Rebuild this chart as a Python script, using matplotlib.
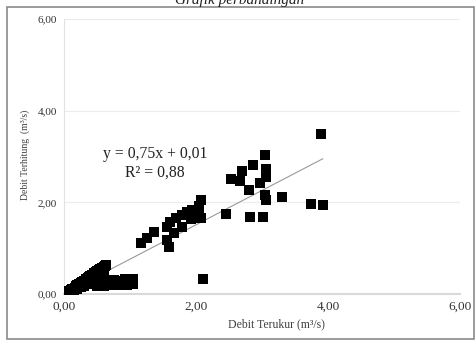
import matplotlib.pyplot as plt
from matplotlib.patches import Rectangle

# measured vs computed discharge (m3/s)
x_low_diag = [0.00, 0.02, 0.04, 0.06, 0.08, 0.10, 0.12, 0.14, 0.16, 0.18, 0.20, 0.22,
              0.25, 0.28, 0.30, 0.33, 0.36, 0.38, 0.40, 0.43, 0.46, 0.48, 0.50, 0.53,
              0.55, 0.58, 0.60, 0.62, 0.64, 0.05, 0.10, 0.15, 0.20, 0.25, 0.30, 0.35,
              0.40, 0.45, 0.50, 0.55, 0.60, 0.35, 0.45, 0.55]
y_low_diag = [0.00, 0.01, 0.03, 0.05, 0.06, 0.08, 0.10, 0.12, 0.14, 0.17, 0.19, 0.21,
              0.24, 0.27, 0.29, 0.32, 0.35, 0.37, 0.40, 0.42, 0.45, 0.47, 0.50, 0.52,
              0.54, 0.57, 0.59, 0.61, 0.63, 0.00, 0.03, 0.06, 0.10, 0.15, 0.18, 0.22,
              0.28, 0.33, 0.38, 0.45, 0.50, 0.28, 0.38, 0.48]

x_low_flat = [0.20, 0.25, 0.30, 0.35, 0.40, 0.45, 0.50, 0.55, 0.60, 0.65, 0.70, 0.75,
              0.80, 0.85, 0.90, 0.92, 0.98, 1.02, 1.05, 1.05, 0.70, 0.80, 0.60, 0.50,
              0.95, 2.10]
y_low_flat = [0.20, 0.22, 0.25, 0.24, 0.22, 0.26, 0.24, 0.28, 0.25, 0.30, 0.26, 0.30,
              0.25, 0.28, 0.22, 0.32, 0.30, 0.27, 0.33, 0.22, 0.20, 0.20, 0.18, 0.18,
              0.20, 0.32]

x_mid = [1.16, 1.25, 1.36, 1.56, 1.61, 1.69, 1.79, 1.87, 1.94, 2.04, 2.07, 1.56,
         1.59, 1.66, 1.79, 1.92, 2.07, 2.02, 2.04, 2.45]
y_mid = [1.11, 1.22, 1.36, 1.47, 1.58, 1.65, 1.72, 1.80, 1.83, 1.91, 2.05, 1.18,
         1.03, 1.33, 1.47, 1.63, 1.65, 1.76, 1.83, 1.75]

x_high = [3.05, 2.87, 3.06, 2.69, 2.53, 2.66, 2.97, 3.06, 2.81, 3.05, 3.06, 3.30,
          2.82, 3.02, 3.74, 3.92, 3.90]
y_high = [3.03, 2.82, 2.73, 2.69, 2.51, 2.47, 2.43, 2.56, 2.27, 2.16, 2.05, 2.12,
          1.69, 1.67, 1.96, 1.94, 3.49]

slope = 0.75
intercept = 0.01
r2 = 0.88

ticks = [0, 2, 4, 6]
tick_labels = ['0,00', '2,00', '4,00', '6,00']

xs = x_low_diag + x_low_flat + x_mid + x_high
ys = y_low_diag + y_low_flat + y_mid + y_high

plt.rcParams['font.family'] = ['Liberation Serif', 'DejaVu Serif']

fig = plt.figure(figsize=(4.75, 3.4), dpi=100)
ax = fig.add_axes([64 / 475, 1 - 294 / 340, 396 / 475, 275 / 340])

ax.scatter(xs, ys, marker='s', s=42, color='black', linewidths=0, zorder=3)

# linear trendline over the data range
x0, x1 = min(xs), max(xs)
ax.plot([x0, x1], [slope * x0 + intercept, slope * x1 + intercept],
        color='#9a9a9a', lw=0.8, zorder=2)

ax.set_xlim(0, 6)
ax.set_ylim(0, 6)
ax.set_xticks(ticks)
ax.set_xticklabels(tick_labels, fontsize=9.5)
ax.set_yticks(ticks)
ax.set_yticklabels(tick_labels, fontsize=8)
ax.tick_params(length=0, pad=5, colors='#333333')

ax.grid(axis='y', color='#ececec', lw=0.8)
ax.set_axisbelow(True)
for side in ['top', 'right']:
    ax.spines[side].set_visible(False)
ax.spines['left'].set_color('#e2e2e2')
ax.spines['left'].set_linewidth(0.8)
ax.spines['bottom'].set_color('#d9d9d9')
ax.spines['bottom'].set_linewidth(1.5)

eq = 'y = {:.2f}x + {:.2f}'.format(slope, intercept).replace('.', ',')
ax.text(1.38, 3.06, eq, ha='center', va='center', fontsize=11.3, color='#222222')
ax.text(1.38, 2.65, 'R² = {:.2f}'.format(r2).replace('.', ','), ha='center',
        va='center', fontsize=11.3, color='#222222')

fig.text(276 / 475, 1 - 324 / 340, 'Debit Terukur (m³/s)', ha='center', va='center',
         fontsize=8.5, color='#404040')
fig.text(25 / 475, 1 - 155 / 340, 'Debit Terhitung  (m³/s)', ha='center', va='center',
         rotation=90, fontsize=7, color='#404040')

# chart frame and the caption above it, running off the top edge
fig.patches.append(Rectangle((7 / 475, 1 / 340), 467 / 475, 332 / 340,
                             transform=fig.transFigure, fill=False,
                             edgecolor='#8a8a8a', lw=1.2))
fig.text(240 / 475, 1 - 4 / 340, 'Grafik perbandingan', ha='center', va='baseline',
         fontsize=11, style='italic', color='#222222')

fig.savefig('out.png', dpi=100)
